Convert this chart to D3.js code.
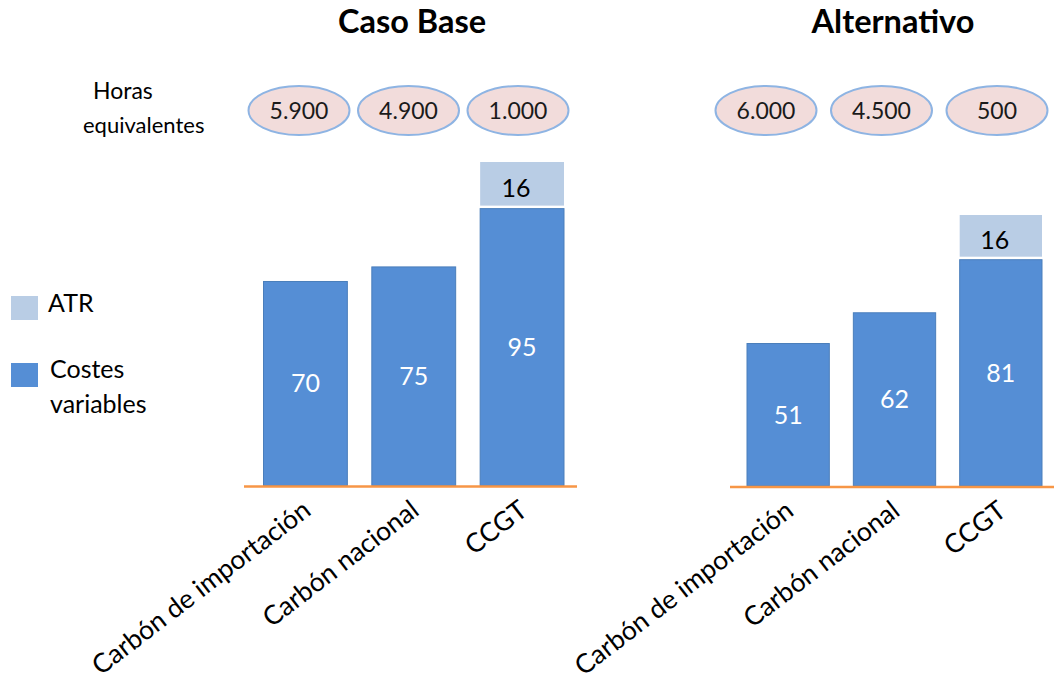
<!DOCTYPE html>
<html>
<head>
<meta charset="utf-8">
<script src="https://cdn.jsdelivr.net/npm/d3@7"></script>
<style>
  html, body { margin: 0; padding: 0; background: #fff; }
  svg { display: block; }
  text { font-family: Lato, "Noto Sans", sans-serif; }
</style>
</head>
<body>
<svg id="chart" width="1054" height="685"></svg>
<script>
// ---------- data ----------
const categories = ["Carbón de importación", "Carbón nacional", "CCGT"];
const seriesNames = ["ATR", "Costes variables"];
const panelTitles = ["Caso Base", "Alternativo"];
const baseCostes = [70, 75, 95];
const baseATR = [0, 0, 16];
const altCostes = [51, 62, 81];
const altATR = [0, 0, 16];
const baseHoras = ["5.900", "4.900", "1.000"];
const altHoras = ["6.000", "4.500", "500"];
const horasLabel = ["Horas", "equivalentes"];

// ---------- styles ----------
const color = d3.scaleOrdinal().domain(seriesNames).range(["#B9CDE5", "#558ED5"]);
const svg = d3.select("#chart");

const panels = [
  { title: panelTitles[0], costes: baseCostes, atr: baseATR, horas: baseHoras,
    titleX: 412, barRange: [263.5, 564], base: 485.5, top: 162,
    axisExt: [19.5, 13], ellRange: [299, 518] },
  { title: panelTitles[1], costes: altCostes, atr: altATR, horas: altHoras,
    titleX: 893, barRange: [747, 1042], base: 486, top: 215,
    axisExt: [17, 14], ellRange: [766, 997] }
];

panels.forEach(p => {
  const g = svg.append("g");
  const rows = categories.map((c, i) => ({ cat: c, "Costes variables": p.costes[i], "ATR": p.atr[i] }));
  const stack = d3.stack().keys(["Costes variables", "ATR"])(rows);
  const maxTotal = d3.max(rows, r => r["Costes variables"] + r["ATR"]);

  const x = d3.scaleBand().domain(categories).range(p.barRange).paddingInner(0.226).paddingOuter(0);
  const y = d3.scaleLinear().domain([0, maxTotal]).range([p.base, p.top]);
  const xe = d3.scalePoint().domain(categories).range(p.ellRange);

  // title
  g.append("text").attr("x", p.titleX).attr("y", 33)
    .attr("text-anchor", "middle").attr("font-size", 32.5).attr("font-weight", 700)
    .attr("fill", "#000").text(p.title);

  // ellipses with hours
  const eg = g.selectAll(".ell").data(categories).join("g")
    .attr("transform", (d) => `translate(${xe(d)},110.5)`);
  eg.append("ellipse").attr("rx", 50.5).attr("ry", 24.5)
    .attr("fill", "#F2DCDB").attr("stroke", "#8EB4E3").attr("stroke-width", 2);
  eg.append("text").attr("text-anchor", "middle").attr("dy", "0.36em")
    .attr("font-size", 23).attr("fill", "#1a1a1a")
    .text((d, i) => p.horas[i]);

  // bars
  stack.forEach(layer => {
    const key = layer.key;
    const isATR = key === "ATR";
    g.selectAll(null).data(layer.filter(d => d[1] - d[0] > 0)).join("rect")
      .attr("x", d => x(d.data.cat))
      .attr("width", x.bandwidth())
      .attr("y", d => y(d[1]))
      .attr("height", d => Math.max(0, y(d[0]) - y(d[1]) - (isATR ? 3 : 0)))
      .attr("fill", color(key))
      .attr("stroke", isATR ? "none" : "#4A7EBB")
      .attr("stroke-width", isATR ? 0 : 1);

    g.selectAll(null).data(layer.filter(d => d[1] - d[0] > 0)).join("text")
      .attr("x", d => x(d.data.cat) + x.bandwidth() / 2 + (isATR ? -6 : 0))
      .attr("y", d => (y(d[0]) + y(d[1])) / 2 + (isATR ? 3 : 0))
      .attr("dy", "0.36em")
      .attr("text-anchor", "middle")
      .attr("font-size", 25)
      .attr("fill", isATR ? "#000" : "#fff")
      .text(d => d[1] - d[0]);
  });

  // baseline
  g.append("line")
    .attr("x1", x.range()[0] - p.axisExt[0]).attr("x2", x.range()[1] + p.axisExt[1])
    .attr("y1", p.base + 1).attr("y2", p.base + 1)
    .attr("stroke", "#F79646").attr("stroke-width", 2.5);

  // category axis
  const ax = g.append("g").attr("transform", `translate(0,${p.base})`)
    .call(d3.axisBottom(x).tickSize(0));
  ax.select(".domain").remove();
  ax.selectAll("text")
    .attr("y", 0).attr("dy", 0)
    .attr("text-anchor", "end")
    .attr("transform", "translate(7,28) rotate(-37.5)")
    .attr("font-size", 26.5)
    .attr("font-family", "Lato, 'Noto Sans', sans-serif")
    .attr("fill", "#000");
});

// "Horas equivalentes" label
svg.append("text").attr("x", 93).attr("y", 99).attr("font-size", 23).attr("fill", "#000").text(horasLabel[0]);
svg.append("text").attr("x", 83).attr("y", 133).attr("font-size", 22).attr("fill", "#000").text(horasLabel[1]);

// legend
const legendY = { "ATR": 296, "Costes variables": 363 };
const lg = svg.append("g");
seriesNames.forEach(name => {
  lg.append("rect").attr("x", 11).attr("y", legendY[name]).attr("width", 27).attr("height", 24)
    .attr("fill", color(name));
});
lg.append("text").attr("x", 48).attr("y", 312).attr("font-size", 25).attr("fill", "#000").text("ATR");
lg.append("text").attr("x", 50).attr("y", 378).attr("font-size", 25).attr("fill", "#000").text("Costes");
lg.append("text").attr("x", 50).attr("y", 413).attr("font-size", 25).attr("fill", "#000").text("variables");
</script>
</body>
</html>
